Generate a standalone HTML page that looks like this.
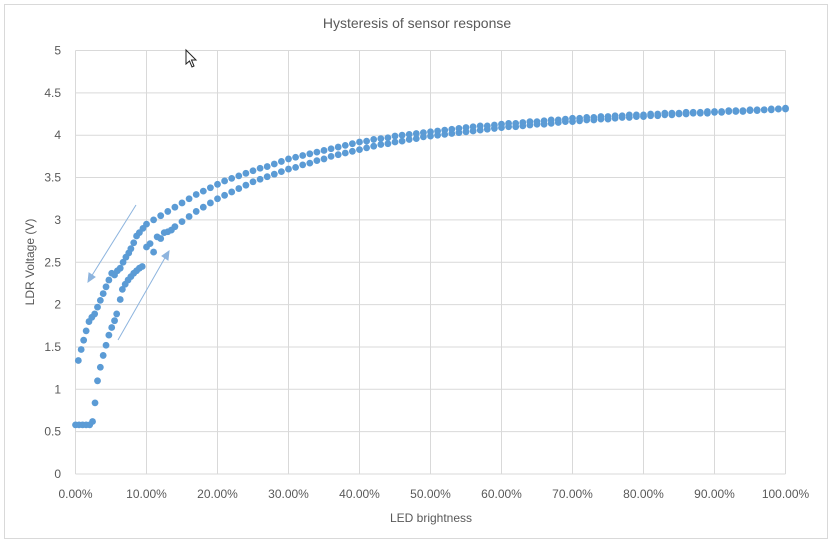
<!DOCTYPE html>
<html><head><meta charset="utf-8"><style>
body{margin:0;background:#fff;width:834px;height:545px;overflow:hidden;font-family:"Liberation Sans",sans-serif}
svg text{font-family:"Liberation Sans",sans-serif;fill:#595959}
</style></head><body>
<svg id="chart" width="834" height="545" viewBox="0 0 834 545" xmlns="http://www.w3.org/2000/svg">
<rect x="4.5" y="4.5" width="823" height="534" fill="#fff" stroke="#d9d9d9"/>
<text x="417" y="28" font-size="14" text-anchor="middle">Hysteresis of sensor response</text>
<g id="grid"></g>
<g id="ticks"></g>
<g id="marks"></g>
<g stroke="#8db4de" stroke-width="1" fill="#8db4de">
<line x1="136" y1="205" x2="91" y2="277"/>
<polygon points="88,282 89,273 95,277"/>
<line x1="118" y1="340" x2="166" y2="256"/>
<polygon points="169,251 168,260 162,256"/>
</g>
<path d="M186 50 L186 64 L189.5 61 L192 67 L194 66 L191.5 60 L196 60 Z" fill="#fff" stroke="#222" stroke-width="1"/>
<text x="431" y="522" font-size="12" text-anchor="middle">LED brightness</text>
<text transform="translate(34,262) rotate(-90)" font-size="12" text-anchor="middle">LDR Voltage (V)</text>
</svg>
<script>
const xTicks=[0,10,20,30,40,50,60,70,80,90,100];
const yTicks=[0,0.5,1,1.5,2,2.5,3,3.5,4,4.5,5];
const risingX=[0,0.5,1,1.5,2,2.4,2.75,3.1,3.5,3.9,4.3,4.7,5.1,5.5,5.8,6.3,6.6,7.0,7.4,7.8,8.2,8.6,9.0,9.4,10,10.5,11,11.5,12,12.5,13,13.5,14,15,16,17,18,19,20,21,22,23,24,25,26,27,28,29,30,31,32,33,34,35,36,37,38,39,40,41,42,43,44,45,46,47,48,49,50,51,52,53,54,55,56,57,58,59,60,61,62,63,64,65,66,67,68,69,70,71,72,73,74,75,76,77,78,79,80,81,82,83,84,85,86,87,88,89,90,91,92,93,94,95,96,97,98,99,100];
const risingY=[0.58,0.58,0.58,0.58,0.58,0.62,0.84,1.10,1.26,1.40,1.52,1.64,1.73,1.81,1.89,2.06,2.18,2.24,2.29,2.33,2.37,2.40,2.43,2.45,2.68,2.72,2.62,2.80,2.78,2.85,2.86,2.88,2.92,2.98,3.04,3.1,3.15,3.2,3.25,3.29,3.33,3.37,3.41,3.45,3.48,3.51,3.54,3.57,3.6,3.62,3.65,3.67,3.7,3.72,3.75,3.77,3.79,3.81,3.83,3.85,3.87,3.89,3.9,3.92,3.93,3.95,3.96,3.98,3.99,4.0,4.01,4.02,4.03,4.04,4.05,4.06,4.07,4.08,4.09,4.1,4.1,4.11,4.12,4.13,4.13,4.14,4.15,4.16,4.16,4.17,4.18,4.18,4.19,4.19,4.2,4.21,4.21,4.22,4.22,4.23,4.23,4.24,4.24,4.25,4.25,4.26,4.26,4.26,4.27,4.27,4.28,4.28,4.28,4.29,4.29,4.3,4.3,4.31,4.31];
const fallingX=[0.4,0.8,1.15,1.5,1.9,2.3,2.7,3.1,3.5,3.9,4.3,4.7,5.1,5.5,5.9,6.3,6.7,7.1,7.5,7.8,8.2,8.6,9.0,9.5,10,11,12,13,14,15,16,17,18,19,20,21,22,23,24,25,26,27,28,29,30,31,32,33,34,35,36,37,38,39,40,41,42,43,44,45,46,47,48,49,50,51,52,53,54,55,56,57,58,59,60,61,62,63,64,65,66,67,68,69,70,71,72,73,74,75,76,77,78,79,80,81,82,83,84,85,86,87,88,89,90,91,92,93,94,95,96,97,98,99,100];
const fallingY=[1.34,1.47,1.58,1.69,1.8,1.85,1.89,1.97,2.05,2.13,2.21,2.29,2.37,2.35,2.40,2.43,2.5,2.56,2.61,2.66,2.73,2.81,2.85,2.9,2.95,3.0,3.05,3.1,3.15,3.2,3.25,3.3,3.34,3.38,3.42,3.46,3.49,3.52,3.55,3.58,3.61,3.63,3.66,3.69,3.72,3.74,3.76,3.78,3.8,3.82,3.84,3.86,3.88,3.9,3.92,3.93,3.95,3.96,3.97,3.99,4.0,4.01,4.02,4.03,4.04,4.05,4.06,4.07,4.08,4.09,4.1,4.11,4.11,4.12,4.13,4.14,4.14,4.15,4.16,4.16,4.17,4.18,4.18,4.19,4.2,4.2,4.21,4.21,4.22,4.22,4.23,4.23,4.24,4.24,4.24,4.25,4.25,4.26,4.26,4.26,4.27,4.27,4.27,4.28,4.28,4.28,4.29,4.29,4.29,4.3,4.3,4.3,4.31,4.31,4.32];
const X0=75.5,X1=785.5,Y0=474,Y1=50.5;
function xs(v){return X0+(v/100)*(X1-X0);}
function ys(v){return Y0-(v/5)*(Y0-Y1);}
const NS='http://www.w3.org/2000/svg';
const grid=document.getElementById('grid'),ticks=document.getElementById('ticks'),marks=document.getElementById('marks');
function mk(tag,attrs,parent){const e=document.createElementNS(NS,tag);for(const k in attrs)e.setAttribute(k,attrs[k]);parent.appendChild(e);return e;}
yTicks.forEach(t=>{
  const l=mk('line',{x1:X0,x2:X1,y1:ys(t),y2:ys(t),stroke:'#d9d9d9','stroke-width':1},grid);
  
  
  const tx=mk('text',{x:61,y:ys(t)+4,'font-size':12,'text-anchor':'end'},ticks);
  tx.textContent=String(t);
  
  
});
xTicks.forEach(t=>{
  const l=mk('line',{x1:xs(t),x2:xs(t),y1:Y1,y2:Y0,stroke:'#d9d9d9','stroke-width':1},grid);
  
  
  const tx=mk('text',{x:xs(t),y:498,'font-size':12,'text-anchor':'middle'},ticks);
  tx.textContent=t.toFixed(2)+'%';
  
  
});
function drawSeries(X,Y,name){
  X.forEach((x,i)=>{
    const c=mk('circle',{cx:xs(x),cy:ys(Y[i]),r:3.4,fill:'#5b9bd5'},marks);
    
    
  });
}
drawSeries(risingX,risingY,'rising-point');
drawSeries(fallingX,fallingY,'falling-point');
</script>
</body></html>
